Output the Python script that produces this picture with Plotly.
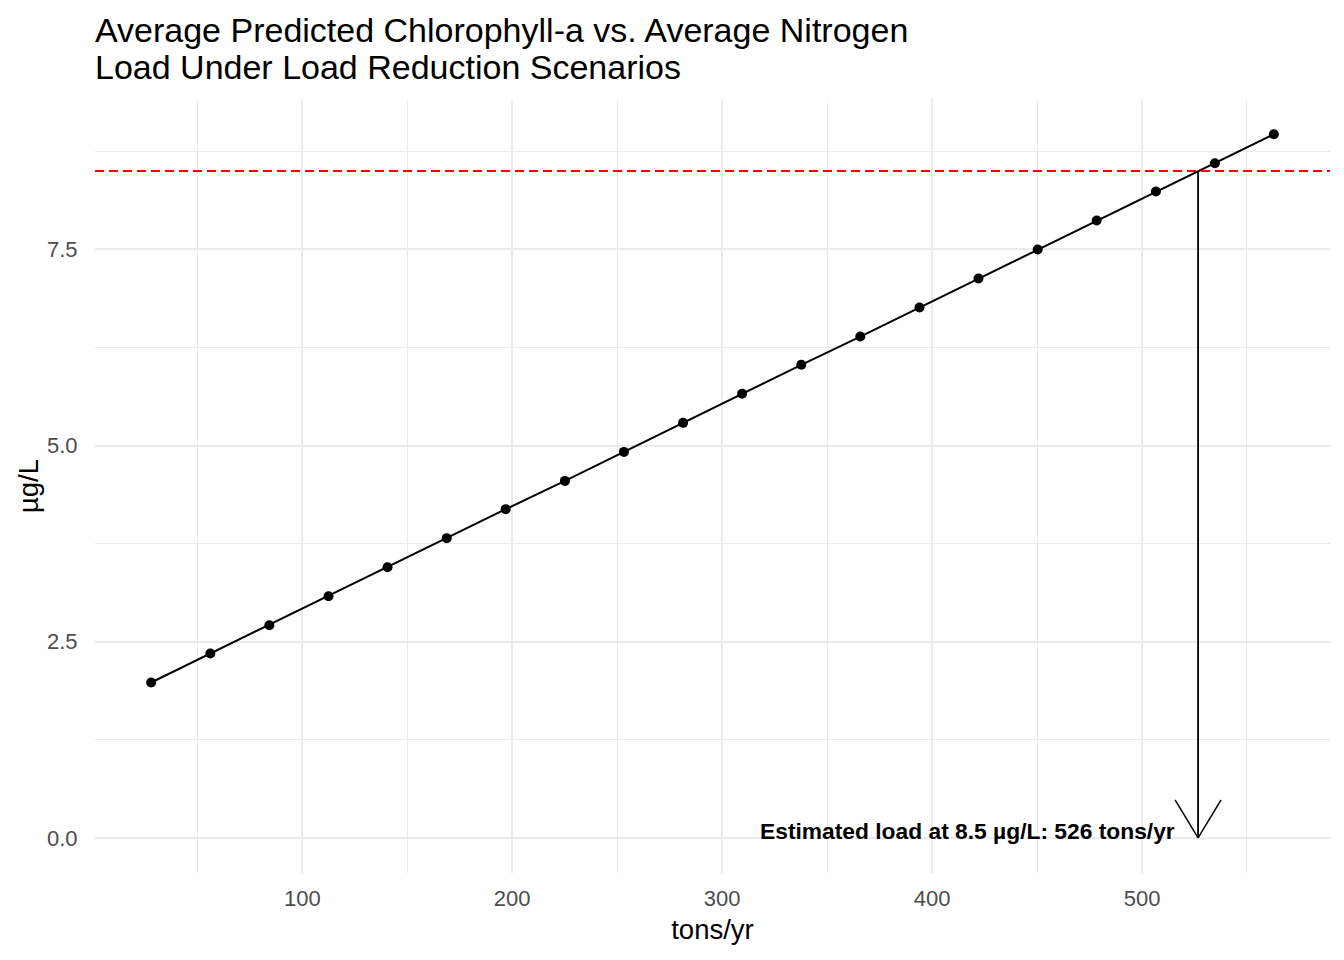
import plotly.graph_objects as go

# ---- data ----
load_tons = [28.0, 56.2, 84.3, 112.5, 140.6, 168.8, 196.9, 225.1, 253.2, 281.4,
             309.5, 337.7, 365.8, 394.0, 422.1, 450.3, 478.4, 506.6, 534.7, 562.8]
chla = [1.98, 2.35, 2.71, 3.08, 3.45, 3.82, 4.19, 4.55, 4.92, 5.29,
        5.66, 6.03, 6.39, 6.76, 7.13, 7.50, 7.87, 8.24, 8.60, 8.97]
target_chla = 8.5
estimated_load = 526.7   # where the arrow sits; label shows the truncated value

title_lines = ["Average Predicted Chlorophyll-a vs. Average Nitrogen",
               "Load Under Load Reduction Scenarios"]
x_title = "tons/yr"
y_title = "µg/L"
x_ticks = [100, 200, 300, 400, 500]
y_ticks = [0.0, 2.5, 5.0, 7.5]

FONT = "Liberation Sans, Arial, sans-serif"
# page body has an 8px margin, so the figure is sized/positioned to compensate
W, H = 1328, 944
L, R, T, B = 87, 6, 91, 79

# ggplot-like 5% expansion
xmin, xmax = min(load_tons), max(load_tons)
xr = [xmin - 0.05 * (xmax - xmin), xmax + 0.05 * (xmax - xmin)]
ymin, ymax = 0.0, max(chla)
yr = [ymin - 0.05 * (ymax - ymin), ymax + 0.05 * (ymax - ymin)]

plot_w = W - L - R
plot_h = H - T - B
x_per_px = (xr[1] - xr[0]) / plot_w
y_per_px = (yr[1] - yr[0]) / plot_h

fig = go.Figure()
fig.add_trace(go.Scatter(
    x=load_tons, y=chla, mode="lines+markers",
    line=dict(color="black", width=2),
    marker=dict(color="black", size=10),
    showlegend=False, hoverinfo="skip"))

shapes = []
# dashed target line
shapes.append(dict(type="line", xref="paper", yref="y", x0=0, x1=1,
                   y0=target_chla, y1=target_chla,
                   line=dict(color="#FF0000", width=2, dash="9px,5px")))
# arrow shaft
shapes.append(dict(type="line", xref="x", yref="y",
                   x0=estimated_load, x1=estimated_load, y0=target_chla, y1=0,
                   line=dict(color="black", width=1.8)))
# open arrow head (30 degrees, ~45 px long)
head_dx = 23 * x_per_px
head_dy = 38 * y_per_px
for s in (-1, 1):
    shapes.append(dict(type="line", xref="x", yref="y",
                       x0=estimated_load, y0=0,
                       x1=estimated_load + s * head_dx, y1=head_dy,
                       line=dict(color="black", width=1.5)))

annotations = [
    dict(text="<b>Estimated load at %s µg/L: %d tons/yr</b>" % (target_chla, int(estimated_load)),
         x=estimated_load, y=0, xref="x", yref="y",
         xanchor="right", yanchor="middle", xshift=-21, yshift=7,
         showarrow=False, font=dict(family=FONT, size=22.8, color="black")),
    dict(text=title_lines[0], x=0, xref="paper", y=843 / plot_h, yref="paper",
         xanchor="left", yanchor="middle", xshift=-2, showarrow=False,
         font=dict(family=FONT, size=34, color="black")),
    dict(text=title_lines[1], x=0, xref="paper", y=806 / plot_h, yref="paper",
         xanchor="left", yanchor="middle", xshift=-2, showarrow=False,
         font=dict(family=FONT, size=34, color="black")),
]

fig.update_layout(
    width=W, height=H,
    margin=dict(l=L, r=R, t=T, b=B, autoexpand=False),
    paper_bgcolor="white", plot_bgcolor="white",
    font=dict(family=FONT),
    shapes=shapes, annotations=annotations,
    showlegend=False,
)

fig.update_xaxes(
    range=xr, tickmode="array", tickvals=x_ticks,
    ticktext=[str(v) for v in x_ticks],
    showgrid=True, gridcolor="#EBEBEB", gridwidth=2,
    minor=dict(tickmode="linear", tick0=50, dtick=100, showgrid=True,
               gridcolor="#EBEBEB", gridwidth=1),
    zeroline=False, showline=False,
    ticks="outside", ticklen=6, tickcolor="rgba(0,0,0,0)",
    tickfont=dict(family=FONT, size=22, color="#4D4D4D"),
    title=dict(text=x_title, font=dict(family=FONT, size=27.5, color="black"), standoff=9),
)
fig.update_yaxes(
    range=yr, tickmode="array", tickvals=y_ticks,
    ticktext=["%.1f" % v for v in y_ticks],
    showgrid=True, gridcolor="#EBEBEB", gridwidth=2,
    minor=dict(tickmode="linear", tick0=1.25, dtick=2.5, showgrid=True,
               gridcolor="#EBEBEB", gridwidth=1),
    zeroline=False, showline=False,
    ticks="outside", ticklen=12, tickcolor="rgba(0,0,0,0)",
    tickfont=dict(family=FONT, size=22, color="#4D4D4D"),
    title=dict(text=y_title, font=dict(family=FONT, size=27.5, color="black"), standoff=0),
)

fig.write_html("out.html")
